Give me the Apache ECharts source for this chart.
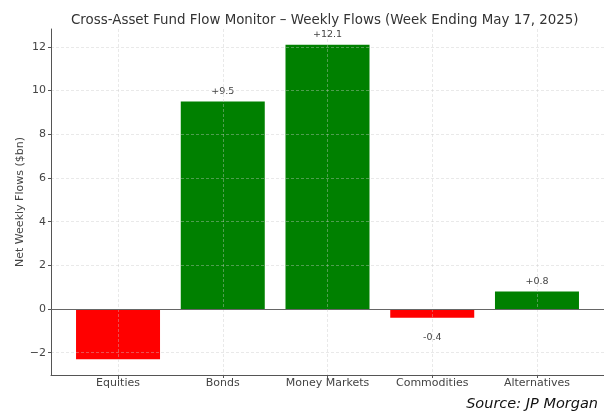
<!DOCTYPE html>
<html><head><meta charset="utf-8">
<script src="https://cdn.jsdelivr.net/npm/echarts@6/dist/echarts.min.js"></script>
<style>html,body{margin:0;padding:0;background:#fff}#c{width:604px;height:415px}</style>
</head><body><div id="c"></div>
<script>
const categories = ["Equities", "Bonds", "Money Markets", "Commodities", "Alternatives"];
const flows = [-2.3, 9.5, 12.1, -0.4, 0.8];
const labelTexts = ["", "+9.5", "+12.1", "-0.4", "+0.8"];
const yTicks = [-2, 0, 2, 4, 6, 8, 10, 12];
const xTicks = [0, 1, 2, 3, 4];

const chart = echarts.init(document.getElementById('c'), null, {renderer: 'canvas'});
const font = 'DejaVu Sans';
const gridLine = {show: true, lineStyle: {color: 'rgba(200,200,200,0.5)', type: [3, 2], width: 0.8}};

chart.setOption({
  animation: false,
  title: {
    text: 'Cross-Asset Fund Flow Monitor \u2013 Weekly Flows (Week Ending May 17, 2025)',
    left: 66, top: 9,
    textStyle: {fontFamily: font, fontSize: 13.4, fontWeight: 'normal', color: '#333'}
  },
  graphic: [{
    type: 'text', right: 6, top: 397,
    style: {text: 'Source: JP Morgan', fontFamily: font, fontStyle: 'italic', fontSize: 14.5, fill: '#111'}
  }],
  grid: {left: 51, right: -1, top: 29, bottom: 40},
  xAxis: {
    type: 'value', min: -0.64, max: 4.64, z: 3,
    axisLine: {show: true, onZero: false, lineStyle: {color: '#555', width: 1}},
    axisTick: {show: true, customValues: xTicks, length: 3, lineStyle: {color: '#555'}},
    axisLabel: {customValues: xTicks, formatter: v => categories[Math.round(v)] || '', margin: 3,
      fontFamily: font, fontSize: 11, color: '#444'},
    splitLine: gridLine
  },
  yAxis: {
    type: 'value', min: -3.02, max: 12.82, z: 3,
    name: 'Net Weekly Flows ($bn)', nameLocation: 'middle', nameGap: 25, nameRotate: 90,
    nameMoveOverlap: false,
    nameTextStyle: {fontFamily: font, fontSize: 11, color: '#444'},
    axisLine: {show: true, onZero: false, lineStyle: {color: '#555', width: 1}},
    axisTick: {show: true, customValues: yTicks, length: 3, lineStyle: {color: '#555'}},
    axisLabel: {customValues: yTicks, formatter: v => String(v).replace('-', '\u2212'), margin: 5,
      fontFamily: font, fontSize: 11, color: '#444'},
    splitLine: gridLine
  },
  series: [{
    type: 'bar', barWidth: 84, z: 2,
    data: flows.map((v, i) => ({
      value: [i, v],
      itemStyle: {color: v >= 0 ? '#008000' : '#ff0000'},
      label: {
        show: labelTexts[i] !== '',
        formatter: labelTexts[i],
        position: v >= 0 ? 'top' : 'bottom',
        distance: v >= 0 ? 5 : 15,
        fontFamily: font, fontSize: 9.5, color: '#444'
      }
    })),
    markLine: {
      silent: true, symbol: 'none', label: {show: false}, z: 4,
      lineStyle: {color: '#666', width: 1, type: 'solid'},
      data: [{yAxis: 0}]
    }
  }]
});
</script></body></html>
